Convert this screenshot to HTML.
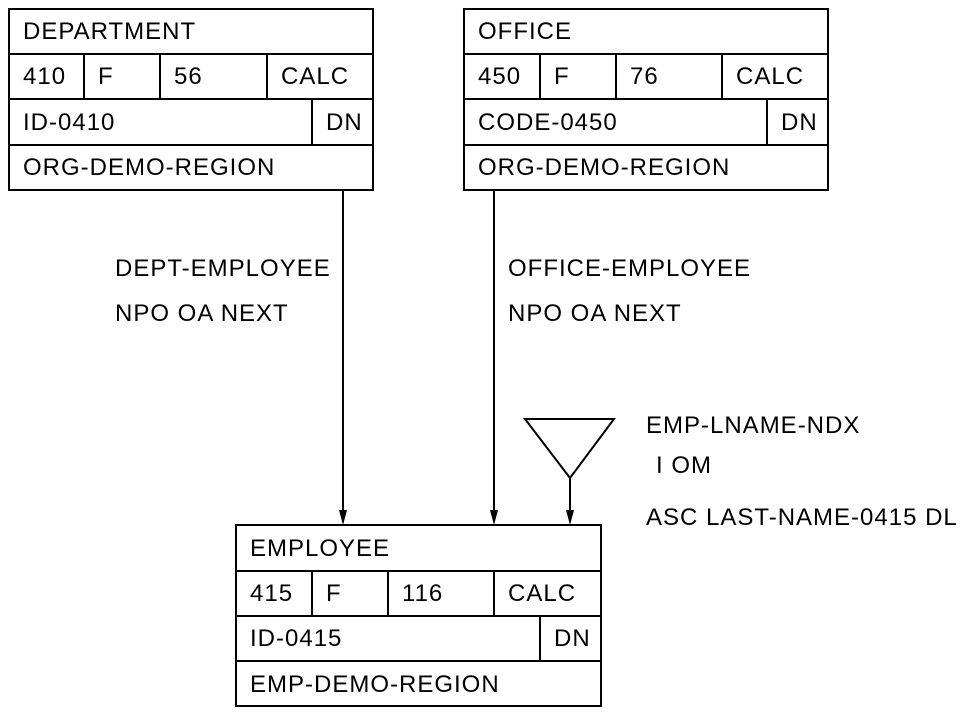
<!DOCTYPE html>
<html><head><meta charset="utf-8"><style>
html,body{margin:0;padding:0;background:#fff;}
svg text{font-family:"Liberation Sans",Arial,sans-serif;font-size:24px;letter-spacing:1px;fill:#000;}
</style></head><body>
<svg width="976" height="714" viewBox="0 0 976 714" xmlns="http://www.w3.org/2000/svg">
<g fill="none" stroke="#000" stroke-width="2">
<rect x="9" y="9" width="364" height="181"/>
<line x1="9" y1="54" x2="373" y2="54"/><line x1="9" y1="99" x2="373" y2="99"/><line x1="9" y1="145" x2="373" y2="145"/>
<line x1="84" y1="54" x2="84" y2="99"/><line x1="160" y1="54" x2="160" y2="99"/><line x1="267" y1="54" x2="267" y2="99"/>
<line x1="312" y1="99" x2="312" y2="145"/>
<rect x="464" y="9" width="364" height="181"/>
<line x1="464" y1="54" x2="828" y2="54"/><line x1="464" y1="99" x2="828" y2="99"/><line x1="464" y1="145" x2="828" y2="145"/>
<line x1="540" y1="54" x2="540" y2="99"/><line x1="616" y1="54" x2="616" y2="99"/><line x1="722" y1="54" x2="722" y2="99"/>
<line x1="767" y1="99" x2="767" y2="145"/>
<rect x="236" y="525" width="365" height="181"/>
<line x1="236" y1="571" x2="601" y2="571"/><line x1="236" y1="616" x2="601" y2="616"/><line x1="236" y1="661" x2="601" y2="661"/>
<line x1="312" y1="571" x2="312" y2="616"/><line x1="388" y1="571" x2="388" y2="616"/><line x1="494" y1="571" x2="494" y2="616"/>
<line x1="540" y1="616" x2="540" y2="661"/>
<line x1="343" y1="190" x2="343" y2="512"/>
<line x1="494" y1="190" x2="494" y2="512"/>
<line x1="570" y1="478" x2="570" y2="512"/>
<polygon points="525,419 614,419 570,478"/>
</g>
<g fill="#000">
<polygon points="339,510 347,510 343,525"/>
<polygon points="490,510 498,510 494,525"/>
<polygon points="566,510 574,510 570,525"/>
</g>
<text x="23" y="39">DEPARTMENT</text>
<text x="23" y="84">410</text><text x="98" y="84">F</text><text x="174" y="84">56</text><text x="281" y="84">CALC</text>
<text x="23" y="130">ID-0410</text><text x="326" y="130">DN</text>
<text x="23" y="175">ORG-DEMO-REGION</text>

<text x="478" y="39">OFFICE</text>
<text x="478" y="84">450</text><text x="554" y="84">F</text><text x="630" y="84">76</text><text x="736" y="84">CALC</text>
<text x="478" y="130">CODE-0450</text><text x="781" y="130">DN</text>
<text x="478" y="175">ORG-DEMO-REGION</text>

<text x="250" y="556">EMPLOYEE</text>
<text x="250" y="601">415</text><text x="326" y="601">F</text><text x="402" y="601">116</text><text x="508" y="601">CALC</text>
<text x="250" y="646">ID-0415</text><text x="554" y="646">DN</text>
<text x="250" y="692">EMP-DEMO-REGION</text>

<text x="115" y="276">DEPT-EMPLOYEE</text>
<text x="115" y="321">NPO OA NEXT</text>
<text x="508" y="276">OFFICE-EMPLOYEE</text>
<text x="508" y="321">NPO OA NEXT</text>
<text x="646" y="433">EMP-LNAME-NDX</text>
<text x="656" y="473">I OM</text>
<text x="646" y="525">ASC LAST-NAME-0415 DL</text>
</svg>
</body></html>
